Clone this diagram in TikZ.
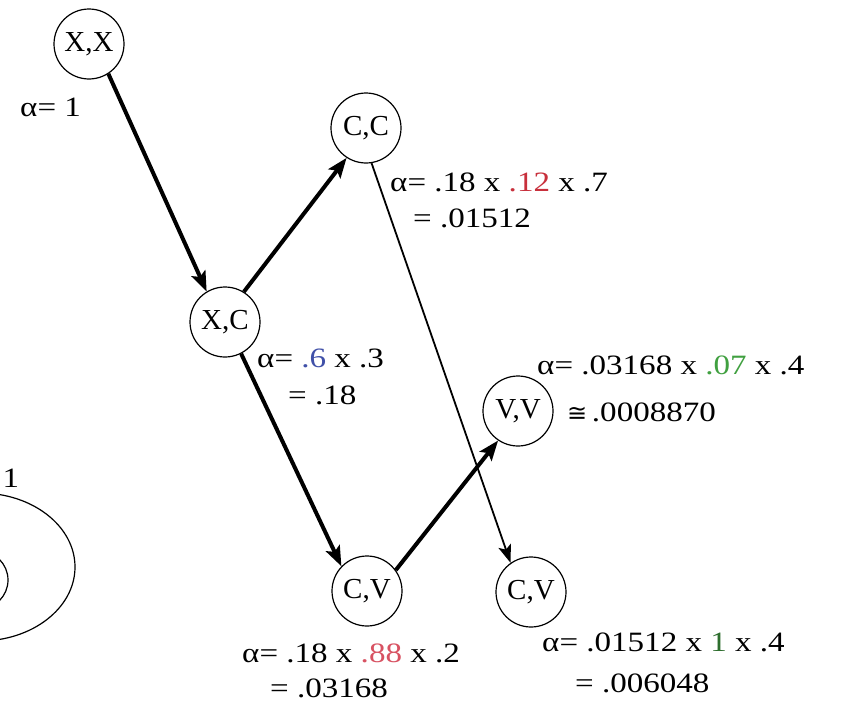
\documentclass[tikz,border=0pt]{standalone}
\usepackage{fontspec}
\setmainfont{Liberation Serif}
\newfontfamily\widefont[FakeStretch=1.18]{Liberation Serif}
\newfontfamily\symbfont{DejaVu Sans}
\usetikzlibrary{arrows.meta}
\definecolor{redA}{HTML}{C8303C}
\definecolor{redB}{HTML}{D85262}
\definecolor{blueA}{HTML}{4050A8}
\definecolor{greenA}{HTML}{40A040}
\definecolor{greenB}{HTML}{2E6E2E}
\tikzset{
  statenode/.style={draw, circle, line width=1.2pt, minimum size=70pt, inner sep=0pt, font=\fontsize{29}{30}\selectfont},
  lab/.style={anchor=west, inner sep=0pt, font=\widefont\fontsize{28}{30}\selectfont},
  thickarrow/.style={line width=4pt, -{Stealth[length=20pt,width=15pt,inset=4pt]}},
  thinarrow/.style={line width=1.8pt, -{Stealth[length=18pt,width=13pt,inset=4pt]}},
}
\begin{document}
\begin{tikzpicture}[x=1pt,y=-1pt]
\useasboundingbox (0,0) rectangle (848,704);
\fill[white] (0,0) rectangle (848,704);
\begin{scope}
\clip (0,0) rectangle (848,704);
% partial shapes at left edge
\draw[line width=1.2pt] (-20,567) ellipse [x radius=95, y radius=74];
\draw[line width=1.2pt] (-21,580) circle [radius=29];
\node[lab, anchor=center] (one) at (11,478) {1};

% states
\node[statenode] (xx) at (89,44) {X,X};
\node[statenode] (cc) at (366,128) {C,C};
\node[statenode] (xc) at (225,322) {X,C};
\node[statenode] (vv) at (518,411) {V,V};
\node[statenode] (cv1) at (367,591) {C,V};
\node[statenode] (cv2) at (531,592) {C,V};

% labels
\node[lab] (lxx) at (20,107) {α= 1};
\node[lab] (lcc1) at (390,182) {α= .18 x \textcolor{redA}{.12} x .7};
\node[lab] (lcc2) at (413,218) {= .01512};
\node[lab] (lxc1) at (257,358) {α= \textcolor{blueA}{.6} x .3};
\node[lab] (lxc2) at (288,395) {= .18};
\node[lab] (lvv1) at (537,365) {α= .03168 x \textcolor{greenA}{.07} x .4};
\node[lab] (lvv2) at (567,412) {{\symbfont\fontsize{24}{26}\selectfont ≅}\,.0008870};
\node[lab] (lcv11) at (242,653) {α= .18 x \textcolor{redB}{.88} x .2};
\node[lab] (lcv12) at (270,688) {= .03168};
\node[lab] (lcv21) at (542,642) {α= .01512 x \textcolor{greenB}{1} x .4};
\node[lab] (lcv22) at (575,683) {= .006048};

% transitions
\draw[thinarrow] (cc.-81) -- (cv2.125);
\draw[thickarrow] (xx.-57) -- (xc.121);
\draw[thickarrow] (xc.58) -- (cc.237);
\draw[thickarrow] (xc.-63) -- (cv1.136);
\draw[thickarrow] (cv1.36) -- (vv.236);
\end{scope}
\end{tikzpicture}
\end{document}
